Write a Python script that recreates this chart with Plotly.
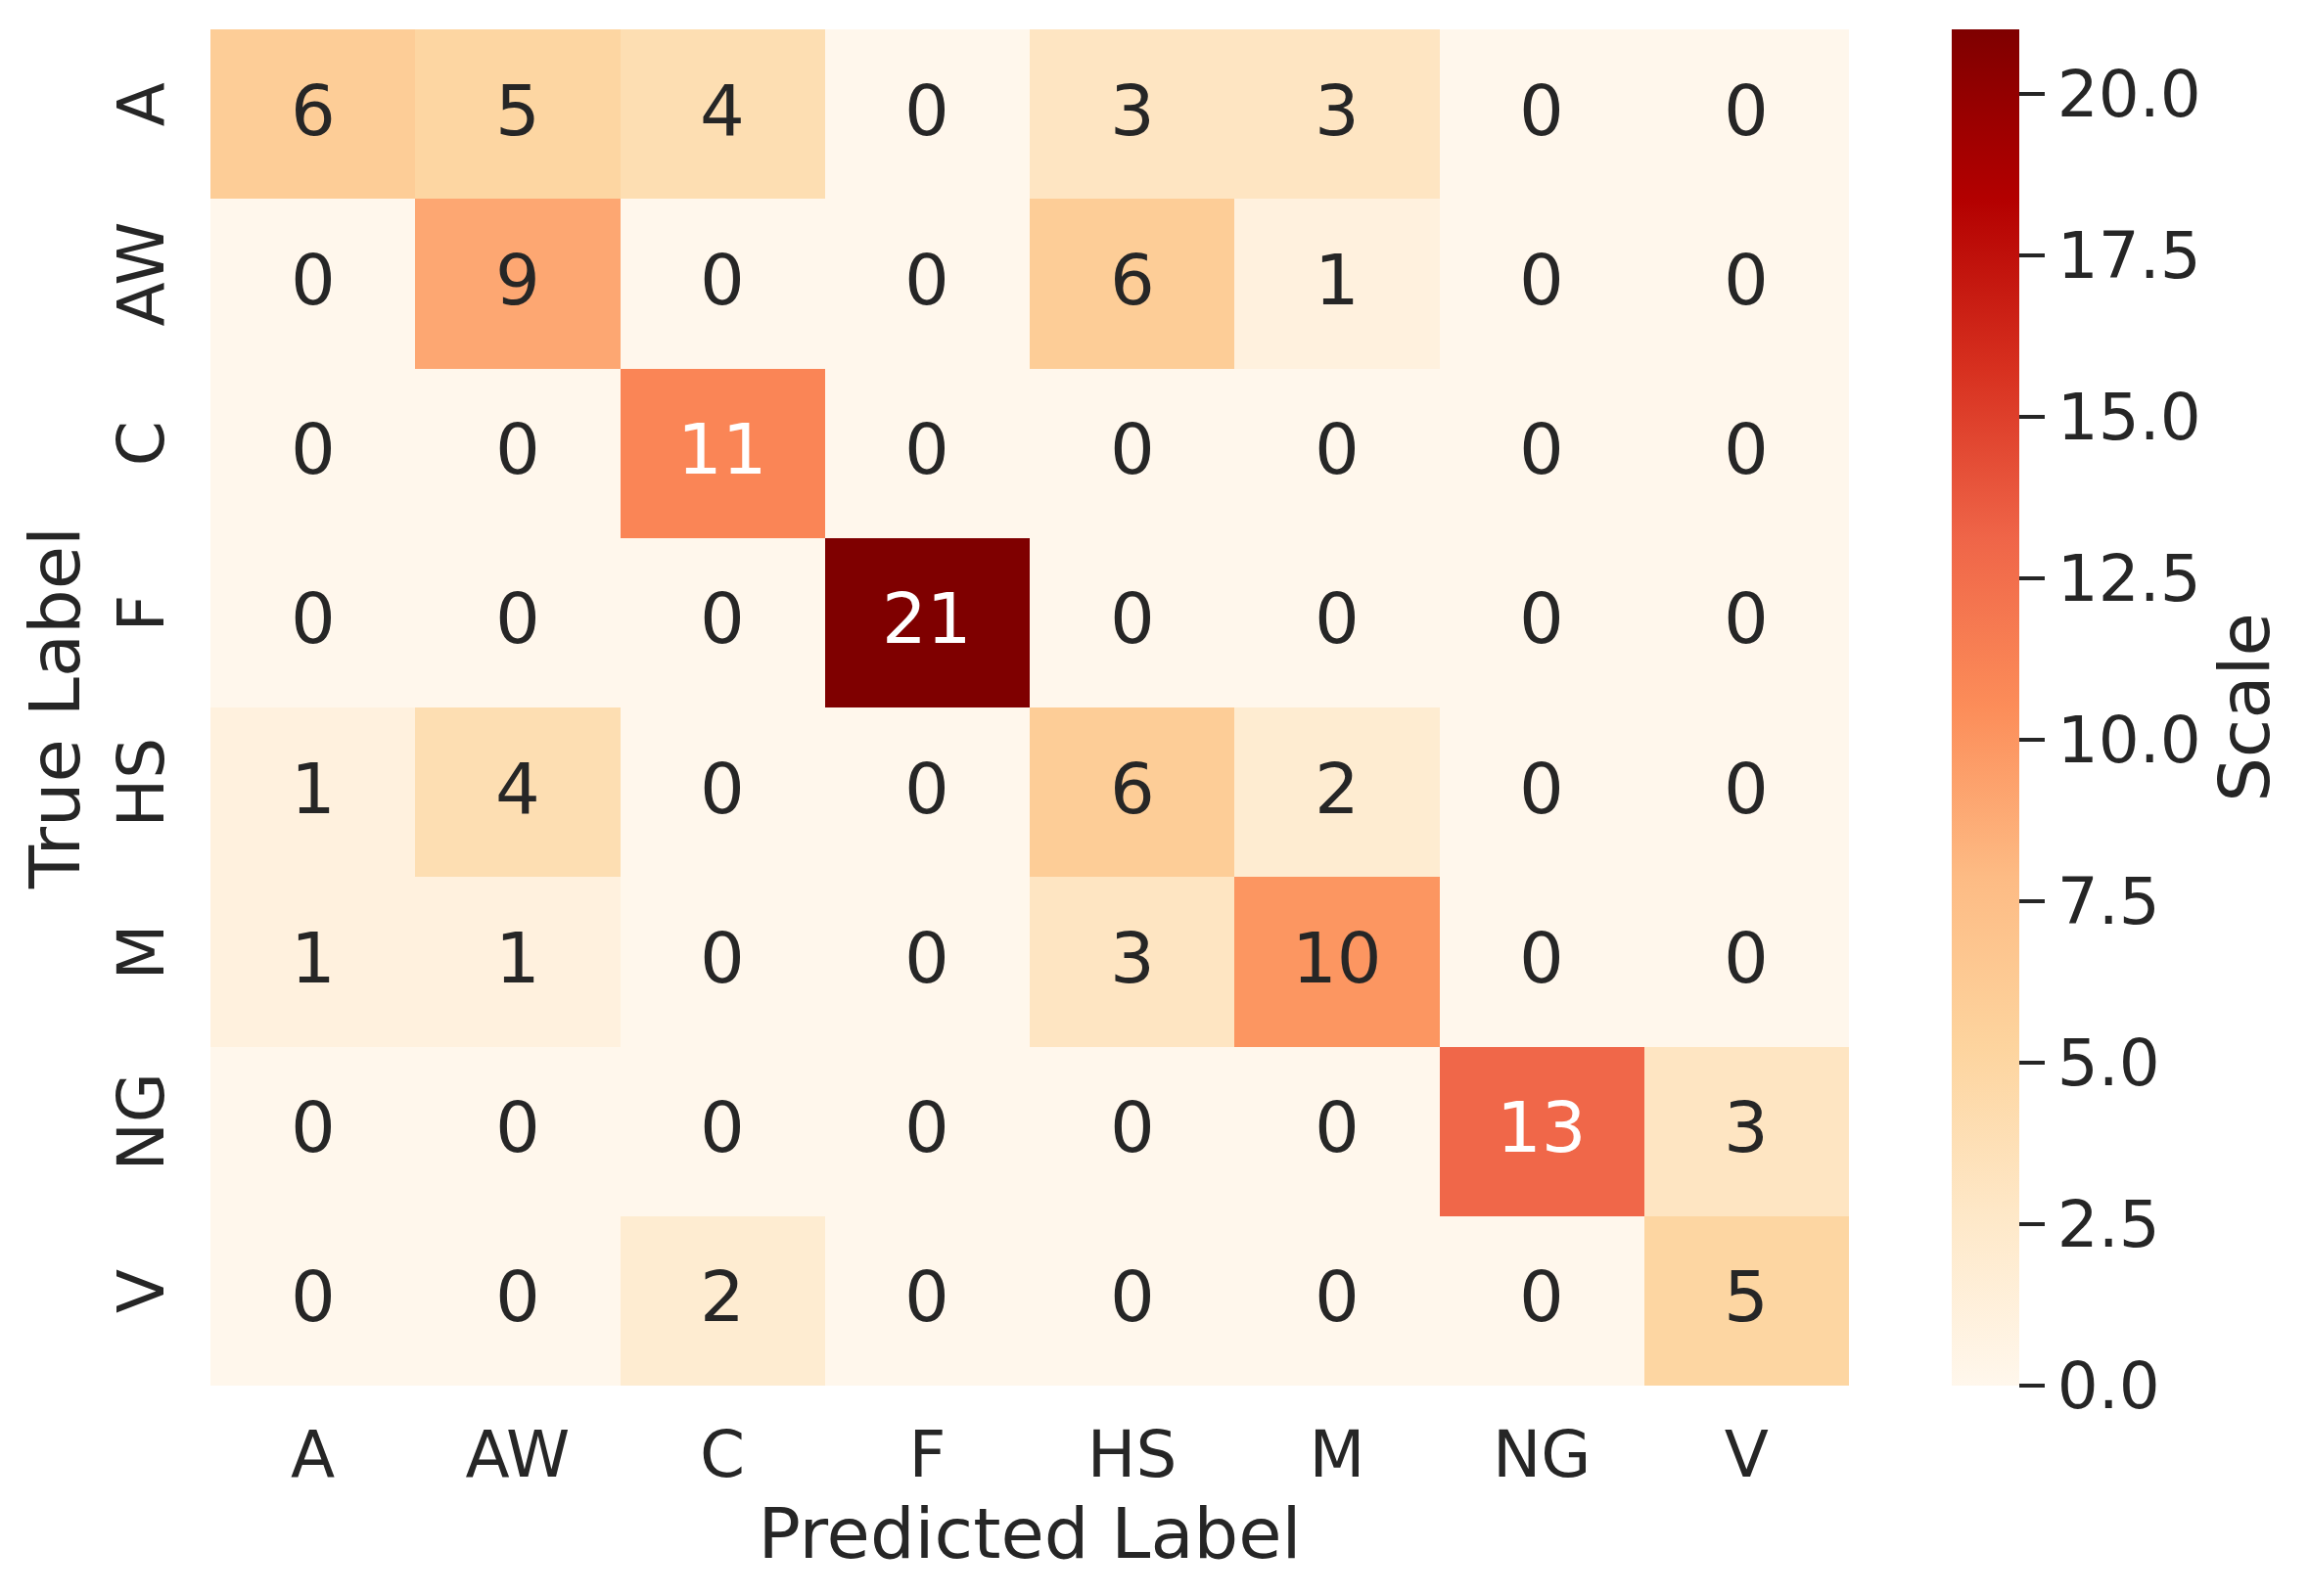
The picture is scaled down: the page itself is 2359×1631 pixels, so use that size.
import plotly.graph_objects as go

# class labels (same order on both axes)
labels = ["A", "AW", "C", "F", "HS", "M", "NG", "V"]

# confusion matrix rows = true label, cols = predicted label
row_A = [6, 5, 4, 0, 3, 3, 0, 0]
row_AW = [0, 9, 0, 0, 6, 1, 0, 0]
row_C = [0, 0, 11, 0, 0, 0, 0, 0]
row_F = [0, 0, 0, 21, 0, 0, 0, 0]
row_HS = [1, 4, 0, 0, 6, 2, 0, 0]
row_M = [1, 1, 0, 0, 3, 10, 0, 0]
row_NG = [0, 0, 0, 0, 0, 0, 13, 3]
row_V = [0, 0, 2, 0, 0, 0, 0, 5]

matrix = [row_A, row_AW, row_C, row_F, row_HS, row_M, row_NG, row_V]

cbar_ticks = [0, 2.5, 5, 7.5, 10, 12.5, 15, 17.5, 20]

FONT = "DejaVu Sans"
INK = "#262626"

# page body adds an 8px margin, so the figure is a bit smaller than the window
W, H = 2351, 1623
ml, mr, mt, mb = 207, 470, 22, 215
plot_w = W - ml - mr

fig = go.Figure()
fig.add_trace(go.Heatmap(
    z=matrix,
    x=labels,
    y=labels,
    colorscale="OrRd",
    zmin=0,
    zmax=21,
    xgap=0,
    ygap=0,
    hoverongaps=False,
    colorbar=dict(
        x=(1986 - ml) / plot_w,
        xanchor="left",
        xref="paper",
        y=0.5,
        yanchor="middle",
        len=1,
        lenmode="fraction",
        ypad=0,
        xpad=0,
        thickness=69,
        thicknessmode="pixels",
        outlinewidth=0,
        tickvals=cbar_ticks,
        tickformat=".1f",
        ticks="outside",
        ticklen=26,
        tickwidth=4,
        tickcolor=INK,
        tickfont=dict(family=FONT, size=66, color=INK),
        title=dict(text="Scale", side="right",
                   font=dict(family=FONT, size=72, color=INK)),
    ),
))

# cell annotations: light text on the dark cells
for i, row in enumerate(matrix):
    for j, v in enumerate(row):
        fig.add_annotation(
            x=labels[j], y=labels[i], text=str(v), showarrow=False,
            yshift=4,
            font=dict(family=FONT, size=72,
                      color="white" if v > 10.5 else INK),
        )

fig.update_xaxes(
    title=dict(text="Predicted Label", standoff=1,
               font=dict(family=FONT, size=72, color=INK)),
    tickfont=dict(family=FONT, size=66, color=INK),
    showgrid=False, zeroline=False, showline=False,
    ticks="", ticklabelstandoff=26,
)
fig.update_yaxes(
    title=dict(text="True Label", standoff=0,
               font=dict(family=FONT, size=72, color=INK)),
    tickfont=dict(family=FONT, size=66, color=INK),
    tickangle=-90,
    autorange="reversed",
    showgrid=False, zeroline=False, showline=False,
    ticks="", ticklabelstandoff=34,
)

fig.update_layout(
    width=W,
    height=H,
    margin=dict(l=ml, r=mr, t=mt, b=mb, autoexpand=False),
    plot_bgcolor="white",
    paper_bgcolor="white",
    font=dict(family=FONT, color=INK),
)

fig.write_html("out.html")
